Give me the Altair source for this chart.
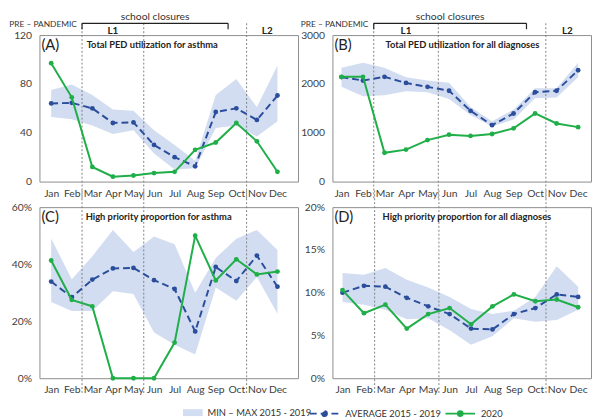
import altair as alt
import pandas as pd

FONT = "Lato"
BAND = "#d3ddf1"
AVG = "#2b4e9c"
GREEN = "#1fae48"
FRAME = "#8c8c8c"
TXT = "#333333"

months = ["Jan", "Feb", "Mar", "Apr", "May", "Jun", "Jul", "Aug", "Sep", "Oct", "Nov", "Dec"]
band_name = "MIN \u2013 MAX 2015 - 2019"
avg_name = "AVERAGE 2015 - 2019"
cur_name = "2020"

# (A) Total PED utilization for asthma
a_avg = [64, 64.5, 60, 48, 48.5, 30, 20, 12.5, 57, 60, 50.5, 70.5]
a_min = [53, 51, 46, 39, 42, 23, 10, 11, 44, 46, 37, 49.5]
a_max = [75, 79.5, 71, 59, 58, 42, 30, 17, 71, 84, 61, 95]
a_2020 = [97, 69, 12, 4, 5, 7, 8, 26, 32, 48, 33, 8]

# (B) Total PED utilization for all diagnoses
b_avg = [2140, 2070, 2145, 2020, 1940, 1860, 1450, 1155, 1395, 1830, 1860, 2280]
b_min = [1940, 1750, 1770, 1850, 1830, 1690, 1365, 1130, 1270, 1705, 1720, 2135]
b_max = [2330, 2435, 2330, 2135, 2070, 2025, 1525, 1235, 1475, 1910, 1910, 2435]
b_2020 = [2145, 2145, 590, 655, 850, 960, 935, 975, 1090, 1395, 1190, 1115]

# (C) High priority proportion for asthma (%)
c_avg = [33.9, 28.4, 34.6, 38.5, 38.7, 34.4, 31.3, 16.4, 39, 34.1, 43, 32.1]
c_min = [26.7, 23.6, 23.6, 30.5, 29.5, 16, 11.7, 8.3, 31.8, 27.2, 35.5, 22.6]
c_max = [49, 34.7, 42.8, 52, 44.3, 49.7, 47, 30, 42.2, 48.9, 52, 45]
c_2020 = [41.3, 27.5, 25.2, 0, 0, 0, 12.5, 50, 34.3, 41.7, 36.4, 37.4]

# (D) High priority proportion for all diagnoses (%)
d_avg = [10.0, 10.8, 10.7, 9.4, 8.4, 7.5, 5.8, 5.7, 7.5, 8.2, 9.8, 9.5]
d_min = [8.9, 8.6, 8.0, 6.9, 7.0, 5.6, 3.9, 4.9, 7.0, 6.6, 6.8, 8.0]
d_max = [12.3, 12.1, 12.9, 11.5, 10.6, 9.5, 8.1, 7.5, 7.9, 9.5, 13.1, 10.7]
d_2020 = [10.3, 7.6, 8.6, 5.8, 7.5, 8.2, 6.3, 8.4, 9.8, 9.0, 9.2, 8.3]

# period boundaries (month index, 0 = Jan)
boundaries = [1.5, 4.5, 9.5]
closure_start = 1.5
closure_end = 8.6
pre_pandemic_x = 1.25
l_labels = ["L1", "L2"]
l_pos = [3, 10.5]

month_expr = "[" + ",".join("'%s'" % m for m in months) + "][datum.value]"

line_sym = "M-1,0H1M0.16,0A0.16,0.16,0,1,1,-0.16,0A0.16,0.16,0,1,1,0.16,0Z"
leg_common = dict(title=None, orient="none", labelFont=FONT, labelFontSize=9.5,
                  labelColor=TXT, labelOffset=5)
leg_band = alt.Legend(symbolType="M-1,-0.35H1V0.35H-1Z", symbolSize=400,
                      symbolStrokeWidth=0, legendX=146, legendY=374, **leg_common)
leg_avg = alt.Legend(symbolType=line_sym, symbolSize=900, symbolStrokeColor=AVG,
                     symbolFillColor=AVG, symbolStrokeWidth=2, legendX=274, legendY=369,
                     **leg_common)
leg_cur = alt.Legend(symbolType=line_sym, symbolSize=900, symbolFillColor=GREEN,
                     symbolStrokeWidth=2, legendX=412, legendY=369, **leg_common)


def panel(avg, lo, hi, cur, ydom, yvals, yexpr, xdom, letter, title, title_x, w, h, top):
    df = pd.DataFrame({"i": list(range(12)), "month": months, "avg": avg, "lo": lo,
                       "hi": hi, "cur": cur, "band": band_name, "avgname": avg_name,
                       "curname": cur_name})
    xs = alt.Scale(domain=xdom, nice=False, zero=False)
    ys = alt.Scale(domain=ydom, nice=False, zero=True)
    xax = alt.Axis(values=list(range(12)), labelExpr=month_expr, title=None, ticks=False,
                   domain=False, grid=False, labelPadding=7)
    yax = alt.Axis(values=yvals, labelExpr=yexpr, title=None, ticks=False, domain=False,
                   grid=False, labelPadding=8)

    def X(field):
        return alt.X(field, scale=xs, axis=xax)

    def Y(field):
        return alt.Y(field, scale=ys, axis=yax)

    base = alt.Chart(df)
    band = base.mark_area(opacity=1).encode(
        x=X("i:Q"), y=Y("lo:Q"), y2="hi:Q",
        fill=alt.Fill("band:N", scale=alt.Scale(domain=[band_name], range=[BAND]), legend=leg_band))
    avg_line = base.mark_line(color=AVG, strokeWidth=2).encode(
        x=X("i:Q"), y=Y("avg:Q"),
        strokeDash=alt.StrokeDash("avgname:N", scale=alt.Scale(domain=[avg_name], range=[[7, 4]]),
                                  legend=leg_avg))
    avg_pts = base.mark_circle(color=AVG, size=24, opacity=1).encode(x=X("i:Q"), y=Y("avg:Q"))
    cur_line = base.mark_line(strokeWidth=2).encode(
        x=X("i:Q"), y=Y("cur:Q"),
        color=alt.Color("curname:N", scale=alt.Scale(domain=[cur_name], range=[GREEN]),
                        legend=leg_cur))
    cur_pts = base.mark_circle(color=GREEN, size=24, opacity=1).encode(x=X("i:Q"), y=Y("cur:Q"))

    rules = alt.Chart(pd.DataFrame({"b": boundaries})).mark_rule(
        color="#808080", strokeDash=[2, 2], strokeWidth=1).encode(
        x=X("b:Q"), y=alt.value(-12 if top else -17), y2=alt.value(h + 17))

    letter_t = alt.Chart(pd.DataFrame({"t": [letter]})).mark_text(
        align="left", baseline="middle", font=FONT, fontSize=15, color="#222").encode(
        x=alt.value(2), y=alt.value(10), text="t:N")
    title_t = alt.Chart(pd.DataFrame({"t": [title]})).mark_text(
        align="left", baseline="middle", font=FONT, fontSize=9.5, fontWeight="bold",
        color="#222").encode(x=alt.value(title_x), y=alt.value(10), text="t:N")

    layers = [band, rules, avg_line, avg_pts, cur_line, cur_pts, letter_t, title_t]

    if top:
        br = pd.DataFrame({"x0": [closure_start], "x1": [closure_end]})
        bracket = alt.Chart(br).mark_rule(color="#222", strokeWidth=1.2).encode(
            x=X("x0:Q"), x2="x1:Q", y=alt.value(-12))
        ends = alt.Chart(pd.DataFrame({"e": [closure_start, closure_end]})).mark_rule(
            color="#222", strokeWidth=1.2).encode(
            x=X("e:Q"), y=alt.value(-12), y2=alt.value(-6))
        sc = alt.Chart(pd.DataFrame({"m": [(closure_start + closure_end) / 2],
                                     "t": ["school closures"]})).mark_text(
            align="center", baseline="alphabetic", font=FONT, fontSize=10.5, color=TXT).encode(
            x=X("m:Q"), y=alt.value(-15), text="t:N")
        pre = alt.Chart(pd.DataFrame({"p": [pre_pandemic_x], "t": ["PRE \u2013 PANDEMIC"]})).mark_text(
            align="right", baseline="alphabetic", font=FONT, fontSize=8.5, color=TXT).encode(
            x=X("p:Q"), y=alt.value(-8), text="t:N")
        ll = alt.Chart(pd.DataFrame({"p": l_pos, "t": l_labels})).mark_text(
            align="center", baseline="alphabetic", font=FONT, fontSize=10, fontWeight="bold",
            color="#222").encode(x=X("p:Q"), y=alt.value(-1), text="t:N")
        layers += [bracket, ends, sc, pre, ll]

    return alt.layer(*layers).properties(width=w, height=h)


W = 263
H1 = 149
H2 = 174
pA = panel(a_avg, a_min, a_max, a_2020, [0, 120], [0, 40, 80, 120], "datum.value",
           [-0.57, 12.0], "(A)", "Total PED utilization for asthma", 48, W, H1, True)
pB = panel(b_avg, b_min, b_max, b_2020, [0, 3000], [0, 1000, 2000, 3000], "datum.value",
           [-0.42, 11.6], "(B)", "Total PED utilization for all diagnoses", 54, W, H1, True)
pC = panel(c_avg, c_min, c_max, c_2020, [0, 60], [0, 20, 40, 60], "datum.value + '%'",
           [-0.57, 12.0], "(C)", "High priority proportion for asthma", 47, W, H2, False)
pD = panel(d_avg, d_min, d_max, d_2020, [0, 20], [0, 5, 10, 15, 20], "datum.value + '%'",
           [-0.47, 11.6], "(D)", "High priority proportion for all diagnoses", 51, W, H2, False)

chart = alt.concat(pA, pB, pC, pD, columns=2, spacing={"row": 26, "column": 35},
                   bounds="flush").properties(
    padding={"left": 0, "top": 0, "right": 0, "bottom": 0}
).configure_view(stroke=FRAME, strokeWidth=1).configure_axis(
    labelFont=FONT, labelFontSize=10.5, labelColor="#404040"
)

chart.save("out.html", embed_options={"renderer": "svg", "actions": False})
